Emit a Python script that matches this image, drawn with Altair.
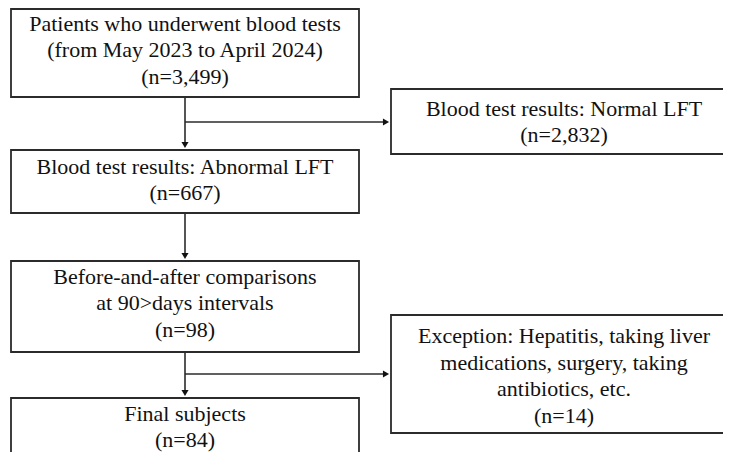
import altair as alt
import pandas as pd

# ---- content ----
labels = [
    "Patients who underwent blood tests\n(from May 2023 to April 2024)",
    "Blood test results: Abnormal LFT",
    "Before-and-after comparisons\nat 90>days intervals",
    "Final subjects",
    "Blood test results: Normal LFT",
    "Exception: Hepatitis, taking liver\nmedications, surgery, taking\nantibiotics, etc.",
]
counts = [3499, 667, 98, 84, 2832, 14]

# ---- layout (reference pixel coordinates) ----
box_x1 = [11, 11, 11, 11, 391, 391]
box_x2 = [359, 359, 359, 359, 740, 740]
box_y1 = [9, 150, 261, 398, 89, 315]
box_y2 = [97, 213, 352, 470, 154, 433]
text_x = [185, 185, 185, 185, 564, 564]
text_cy = [50, 180, 303, 427, 122, 376]   # centre of each text block
LH = 26.5

# connectors: x1, y1, x2, y2
con_x1 = [185, 185, 185, 185, 185]
con_y1 = [97, 213, 352, 122, 374]
con_x2 = [185, 185, 185, 386, 386]
con_y2 = [145, 256, 393, 122, 374]

# arrow heads
arr_x = [185, 185, 185, 386, 386]
arr_y = [145, 256, 393, 122, 374]
arr_shape = ["triangle-down", "triangle-down", "triangle-down", "triangle-right", "triangle-right"]

texts = [f"{l}\n(n={c:,})" for l, c in zip(labels, counts)]
first_line_y = [cy - (t.count("\n")) * LH / 2 for cy, t in zip(text_cy, texts)]

boxes = pd.DataFrame({"x1": box_x1, "x2": box_x2, "y1": box_y1, "y2": box_y2})
tdf = pd.DataFrame({"x": text_x, "y": first_line_y, "t": texts})
cdf = pd.DataFrame({"x1": con_x1, "y1": con_y1, "x2": con_x2, "y2": con_y2})
adf = pd.DataFrame({"x": arr_x, "y": arr_y, "s": arr_shape})

xs = alt.Scale(domain=[8, 723], nice=False, zero=False)
ys = alt.Scale(domain=[452, 8], nice=False, zero=False)
LINE = "#2b2b2b"

rects = alt.Chart(boxes).mark_rect(fill="white", stroke=LINE, strokeWidth=1.8, clip=True).encode(
    x=alt.X("x1:Q", scale=xs, axis=None), x2="x2:Q",
    y=alt.Y("y1:Q", scale=ys, axis=None), y2="y2:Q",
)

rules = alt.Chart(cdf).mark_rule(color=LINE, strokeWidth=1.6).encode(
    x=alt.X("x1:Q", scale=xs, axis=None), x2="x2:Q",
    y=alt.Y("y1:Q", scale=ys, axis=None), y2="y2:Q",
)

heads = alt.Chart(adf).mark_point(filled=True, color="#111", size=50, opacity=1).encode(
    x=alt.X("x:Q", scale=xs, axis=None),
    y=alt.Y("y:Q", scale=ys, axis=None),
    shape=alt.Shape("s:N", scale=alt.Scale(domain=["triangle-down", "triangle-right"],
                                            range=["triangle-down", "triangle-right"]), legend=None),
)

labels_layer = alt.Chart(tdf).mark_text(
    font="Liberation Serif", fontSize=22, lineBreak="\n", lineHeight=LH,
    baseline="middle", align="center", color="#111",
).encode(
    x=alt.X("x:Q", scale=xs, axis=None),
    y=alt.Y("y:Q", scale=ys, axis=None),
    text="t:N",
)

chart = alt.layer(rules, rects, heads, labels_layer).properties(
    width=715, height=444, padding=0, autosize=alt.AutoSizeParams(type="none"),
    background="white",
).configure_view(stroke=None)

chart.save("out.html", embed_options={"renderer": "svg", "actions": False})
